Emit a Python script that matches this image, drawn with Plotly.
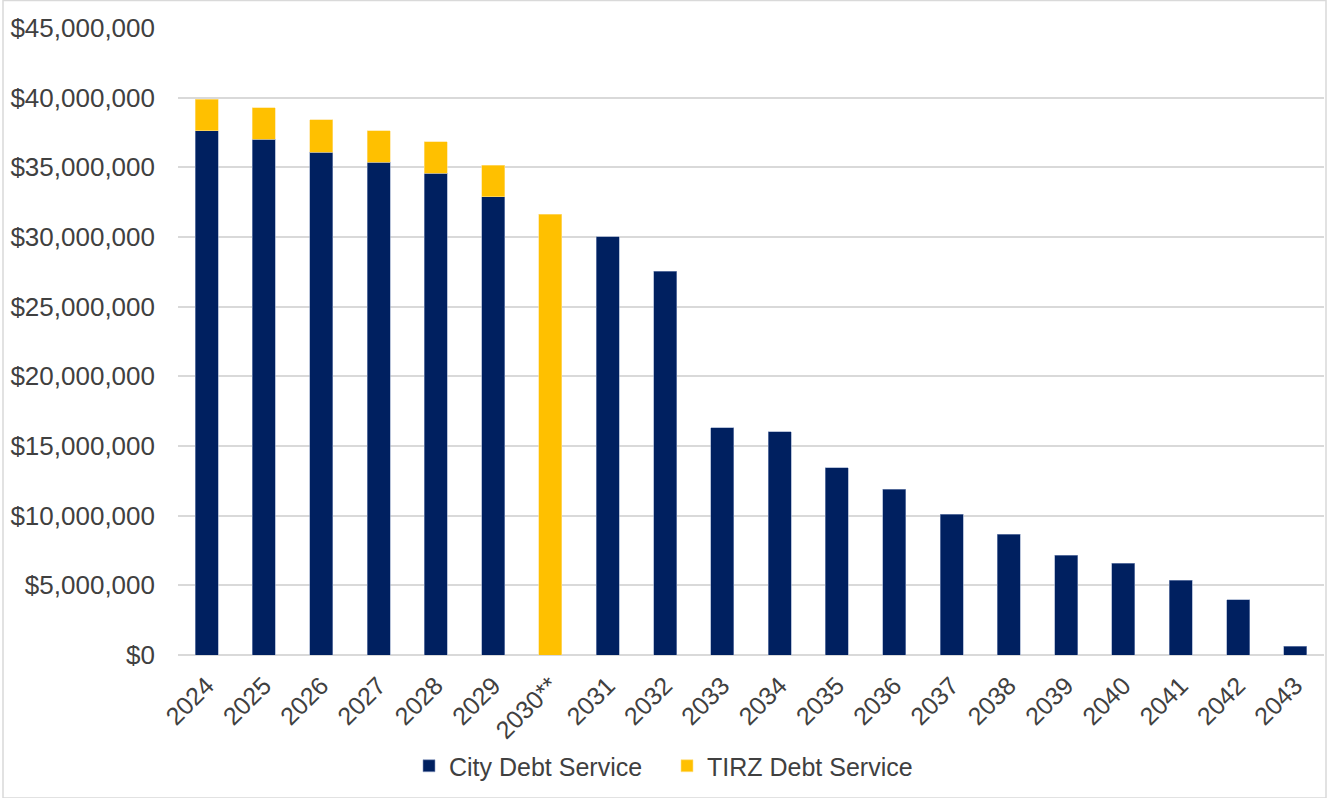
import plotly.graph_objects as go

# Fiscal years shown on the category axis
years = ["2024", "2025", "2026", "2027", "2028", "2029", "2030**", "2031", "2032",
         "2033", "2034", "2035", "2036", "2037", "2038", "2039", "2040", "2041",
         "2042", "2043"]

# Annual debt service by source (USD); None where a source has no payment
city_debt = [37630000, 37010000, 36080000, 35360000, 34590000, 32890000, None,
             30010000, 27530000, 16320000, 16030000, 13450000, 11890000,
             10090000, 8660000, 7150000, 6600000, 5380000, 3970000, 630000]
tirz_debt = [2270000, 2250000, 2320000, 2250000, 2250000, 2270000, 31620000,
             None, None, None, None, None, None, None, None, None, None, None,
             None, None]

y_ticks = list(range(0, 45000001, 5000000))
y_tick_text = ["${:,.0f}".format(v) for v in y_ticks]

NAVY = "#002060"
GOLD = "#FFC000"
TEXT = "#404040"
FONT = "Liberation Sans, Arial, sans-serif"

fig = go.Figure()
fig.add_trace(go.Bar(
    x=years, y=city_debt, name="City Debt Service",
    marker=dict(color=NAVY, line=dict(color="#8a9cc2", width=0.6)),
))
fig.add_trace(go.Bar(
    x=years, y=tirz_debt, name="TIRZ Debt Service",
    marker=dict(color=GOLD, line=dict(color="#ffe08a", width=0.6)),
))

W, H = 1329, 798
ml, mr, mt, mb = 178, 5, 28, 143
pw, ph = W - ml - mr, H - mt - mb

def px_x(p):
    return (p - ml) / pw

def px_y(p):
    return 1 - (p - mt) / ph

fig.update_layout(
    width=W, height=H,
    barmode="stack",
    bargap=0.6,
    margin=dict(l=ml, r=mr, t=mt, b=mb),
    paper_bgcolor="white",
    plot_bgcolor="white",
    font=dict(family=FONT, size=24, color=TEXT),
    showlegend=True,
    legend=dict(
        orientation="h",
        x=px_x(667),
        xanchor="center",
        y=px_y(766), yanchor="middle",
        font=dict(family=FONT, size=25, color=TEXT),
        itemwidth=30,
        entrywidth=213,
        traceorder="normal",
        bgcolor="rgba(0,0,0,0)",
    ),
    xaxis=dict(
        type="category",
        tickangle=-45,
        tickfont=dict(family=FONT, size=25, color=TEXT),
        showgrid=False,
        showline=False,
        ticks="",
        zeroline=False,
        ticklabelstandoff=10,
    ),
    yaxis=dict(
        range=[0, 45000000],
        tickvals=y_ticks,
        ticktext=y_tick_text,
        tickfont=dict(family=FONT, size=26, color=TEXT),
        showgrid=True,
        gridcolor="#d9d9d9",
        gridwidth=1.5,
        zeroline=True,
        zerolinecolor="#d9d9d9",
        zerolinewidth=1.5,
        showline=False,
        ticks="",
        ticklabelstandoff=22,
    ),
    shapes=[dict(
        type="rect", xref="paper", yref="paper",
        x0=px_x(3), x1=px_x(1326), y0=px_y(798), y1=px_y(0.5),
        line=dict(color="#d9d9d9", width=1.5),
        fillcolor="rgba(0,0,0,0)",
        layer="below",
    )],
)

fig.write_html("out.html")
